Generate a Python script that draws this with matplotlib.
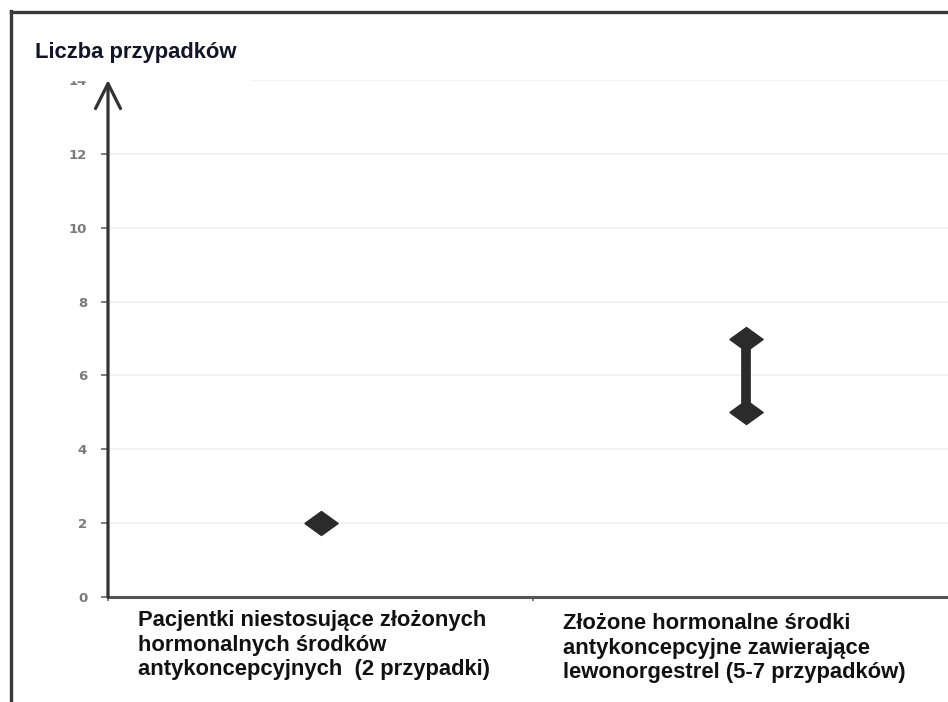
import matplotlib
matplotlib.use("Agg")
import matplotlib.pyplot as plt
from matplotlib.lines import Line2D
from matplotlib.patches import Rectangle

# data
categories = [
    "Pacjentki niestosujące złożonych\nhormonalnych środków\nantykoncepcyjnych  (2 przypadki)",
    "Złożone hormonalne środki\nantykoncepcyjne zawierające\nlewonorgestrel (5-7 przypadków)",
]
cases_low = [2, 5]
cases_high = [2, 7]
y_ticks = [0, 2, 4, 6, 8, 10, 12, 14]
y_label = "Liczba przypadków"

W, H = 948, 702
DARK = "#2b2b2b"

fig = plt.figure(figsize=(W / 100, H / 100), dpi=100)
ax = fig.add_axes([108 / W, 105 / H, 850 / W, 517 / H])

ax.set_xlim(0, len(categories))
ax.set_ylim(y_ticks[0], y_ticks[-1])

# light horizontal grid
for t in y_ticks[1:]:
    ax.axhline(t, color="#f0f0f0", lw=1.2, zorder=0)

# diamond marker (wider than tall)
diamond = [(-1, 0), (0, 0.72), (1, 0), (0, -0.72), (-1, 0)]
xs = [i + 0.5 for i in range(len(categories))]
for x, lo, hi in zip(xs, cases_low, cases_high):
    if hi > lo:
        ax.plot([x, x], [lo, hi], color=DARK, lw=7, solid_capstyle="butt", zorder=3)
        ax.plot([x, x], [lo, hi], ls="none", marker=diamond, ms=24, color=DARK, zorder=4)
    else:
        ax.plot([x], [lo], ls="none", marker=diamond, ms=24, color=DARK, zorder=4)

# axes styling
for s in ["top", "right", "left"]:
    ax.spines[s].set_visible(False)
ax.spines["bottom"].set_color("#555555")
ax.spines["bottom"].set_linewidth(2.2)

# y axis drawn as an arrow
ax.annotate("", xy=(0, 1), xytext=(0, 0), xycoords="axes fraction",
            arrowprops=dict(arrowstyle="->,head_length=0.9,head_width=0.45",
                            color="#333333", lw=2.3, mutation_scale=20,
                            shrinkA=0, shrinkB=0),
            annotation_clip=False, zorder=5)

ax.set_yticks(y_ticks)
ax.set_yticklabels([str(t) for t in y_ticks])
ax.tick_params(axis="y", length=5, width=1.2, color="#666666", pad=10,
               labelsize=9.5, labelcolor="#7a7a7a")
for lbl in ax.get_yticklabels():
    lbl.set_fontweight("bold")
    lbl.set_family("DejaVu Sans")

ax.set_xticks(range(len(categories) + 1))
ax.set_xticklabels([])
ax.tick_params(axis="x", length=3, width=1.2, color="#666666")

# category labels, left-aligned blocks under each category
for i, (x, cat) in enumerate(zip(xs, categories)):
    ax.text(x - 0.43, -0.026 - 0.005 * i, cat, transform=ax.get_xaxis_transform(),
            ha="left", va="top", fontsize=15.8, fontweight="bold",
            family="Liberation Sans", color="#111111", linespacing=1.22)

# outer frame (cropped on the right and bottom)
fig.add_artist(Line2D([11 / W, 11 / W], [0, 1 - 11 / H], color="#3a3a3a", lw=2.4))
fig.add_artist(Line2D([11 / W, 1], [1 - 12 / H, 1 - 12 / H], color="#3a3a3a", lw=2.4))

# white box behind the axis title
fig.add_artist(Rectangle((20 / W, 1 - 80 / H), 230 / W, 55 / H,
                         transform=fig.transFigure, color="white", zorder=3))
fig.text(35 / W, 1 - 58 / H, y_label, ha="left", va="baseline",
         fontsize=15.8, fontweight="bold", family="Liberation Sans",
         color="#141428", zorder=4)

fig.savefig("out.png", dpi=100)
